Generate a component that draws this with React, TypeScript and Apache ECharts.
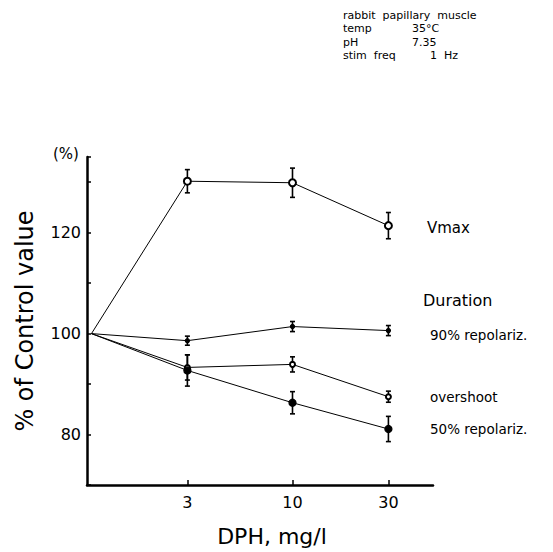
import React, { useEffect, useRef } from "react";
import * as echarts from "echarts";

// Dose (mg/l); the control (0 mg/l) is drawn at the axis origin (1 on the log scale)
const doses = [1, 3, 10, 30];
const xTickValues = [3, 10, 30];
const xTickLabels = ["3", "10", "30"];
const yLabelValues = [80, 100, 120];

const vmax = [100, 130.2, 129.9, 121.4];
const vmaxErr = [0, 2.3, 2.9, 2.6];
const rep90 = [100, 98.6, 101.4, 100.6];
const rep90Err = [0, 0.9, 1.0, 1.0];
const overshoot = [100, 93.3, 93.9, 87.5];
const overshootErr = [0, 2.5, 1.5, 1.1];
const rep50 = [100, 92.7, 86.3, 81.1];
const rep50Err = [0, 3.1, 2.2, 2.5];

const FONT = "DejaVu Sans";

function lineSeries(name: string, vals: number[], symbol: string, size: number) {
  return {
    name,
    type: "line",
    data: doses.map((d, i) =>
      i === 0 ? { value: [d, vals[i]], symbol: "none" } : { value: [d, vals[i]] }
    ),
    symbol,
    symbolSize: size,
    lineStyle: { color: "#000", width: 1 },
    itemStyle: { color: "#000", borderColor: "#000", borderWidth: 1.3 },
    z: 3,
  };
}

function errSeries(vals: number[], errs: number[]) {
  return {
    type: "custom",
    data: doses.map((d, i) => [d, vals[i], errs[i]]),
    renderItem: (params: any, api: any) => {
      const x = api.value(0);
      const y = api.value(1);
      const e = api.value(2);
      if (!e) return null;
      const top = api.coord([x, y + e]);
      const bot = api.coord([x, y - e]);
      const st = { stroke: "#000", lineWidth: 1.6 };
      return {
        type: "group",
        children: [
          { type: "line", shape: { x1: top[0], y1: top[1], x2: bot[0], y2: bot[1] }, style: st },
          { type: "line", shape: { x1: top[0] - 2.5, y1: top[1], x2: top[0] + 2.5, y2: top[1] }, style: st },
          { type: "line", shape: { x1: bot[0] - 2.5, y1: bot[1], x2: bot[0] + 2.5, y2: bot[1] }, style: st },
        ],
      };
    },
    z: 2,
  };
}

export default function App() {
  const ref = useRef<HTMLDivElement>(null);
  useEffect(() => {
    if (!ref.current) return;
    const chart = echarts.init(ref.current, undefined, { renderer: "svg" });
    const txt = (x: number, y: number, text: string, size: number, extra: any = {}) => ({
      type: "text",
      x,
      y,
      style: { text, fontFamily: FONT, fontSize: size, fill: "#000", textVerticalAlign: "middle", ...extra },
    });
    chart.setOption({
      animation: false,
      backgroundColor: "#fff",
      grid: { left: 87, top: 157, width: 346, height: 328 },
      xAxis: {
        type: "log",
        logBase: 10,
        min: 0.95,
        max: 50,
        axisLine: { lineStyle: { color: "#000", width: 2.5 } },
        axisTick: { inside: true, length: 5, lineStyle: { color: "#000", width: 1.5 }, customValues: xTickValues },
        axisLabel: {
          customValues: xTickValues,
          formatter: (v: number) => xTickLabels[xTickValues.indexOf(v)] ?? "",
          fontFamily: FONT,
          fontSize: 16,
          color: "#000",
          margin: 9,
        },
        splitLine: { show: false },
        minorTick: { show: false },
      },
      yAxis: {
        type: "value",
        min: 70,
        max: 135,
        interval: 10,
        name: "% of Control value",
        nameLocation: "middle",
        nameGap: 50,
        nameTextStyle: { fontFamily: FONT, fontSize: 24, color: "#000" },
        axisLine: { show: true, lineStyle: { color: "#000", width: 2.5 } },
        axisTick: { show: true, inside: true, length: 4, lineStyle: { color: "#000", width: 1.5 } },
        axisLabel: {
          formatter: (v: number) => (yLabelValues.includes(v) ? String(v) : ""),
          fontFamily: FONT,
          fontSize: 16,
          color: "#000",
          margin: 6,
        },
        splitLine: { show: false },
      },
      series: [
        lineSeries("Vmax", vmax, "emptyCircle", 7),
        errSeries(vmax, vmaxErr),
        lineSeries("90% repolariz.", rep90, "circle", 4),
        errSeries(rep90, rep90Err),
        lineSeries("overshoot", overshoot, "emptyCircle", 5),
        errSeries(overshoot, overshootErr),
        lineSeries("50% repolariz.", rep50, "circle", 7),
        errSeries(rep50, rep50Err),
      ],
      graphic: [
        txt(272, 536, "DPH, mg/l", 22, { textAlign: "center" }),
        txt(53, 154, "(%)", 15),
        txt(427, 228, "Vmax", 15),
        txt(423, 300, "Duration", 16),
        txt(430, 335, "90% repolariz.", 13.5),
        txt(430, 397, "overshoot", 13.5),
        txt(430, 429, "50% repolariz.", 13.5),
        txt(343, 15, "rabbit  papillary  muscle", 11),
        txt(343, 28, "temp", 11),
        txt(412, 28, "35°C", 11),
        txt(343, 42, "pH", 11),
        txt(412, 42, "7.35", 11),
        txt(343, 55, "stim  freq", 11),
        txt(430, 55, "1  Hz", 11),
      ],
    });
    return () => chart.dispose();
  }, []);
  return (
    <div
      ref={ref}
      style={{ position: "fixed", left: 0, top: 0, width: 553, height: 552 }}
    />
  );
}
